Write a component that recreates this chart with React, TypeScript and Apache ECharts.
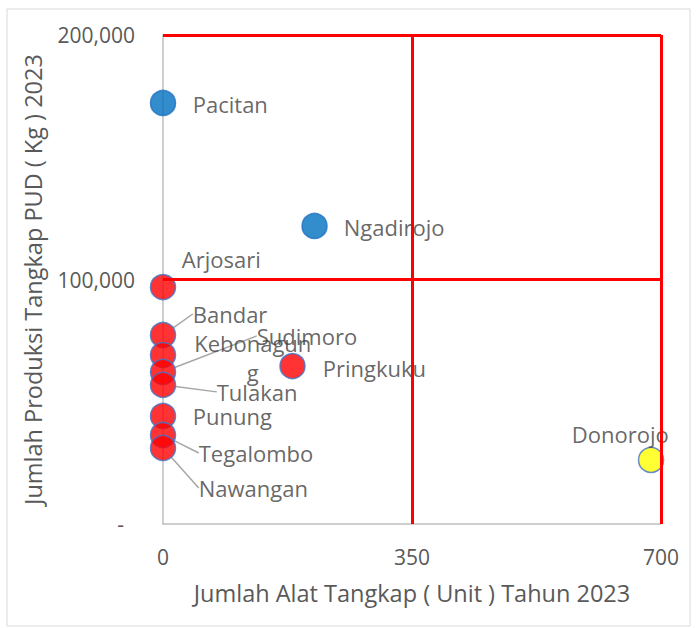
import React, { useEffect, useRef } from "react";
import * as echarts from "echarts";

// ---- data ----
const districts = [
  "Pacitan",
  "Ngadirojo",
  "Arjosari",
  "Bandar",
  "Kebonagun\ng",
  "Sudimoro",
  "Tulakan",
  "Pringkuku",
  "Punung",
  "Tegalombo",
  "Nawangan",
  "Donorojo",
];
const alatTangkap = [0, 213, 0, 0, 0, 0, 0, 182, 0, 0, 0, 686];
const produksi = [172200, 121900, 96900, 77300, 69100, 62200, 56900, 64600, 44200, 36400, 31100, 26200];
const kuadran = ["biru", "biru", "merah", "merah", "merah", "merah", "merah", "merah", "merah", "merah", "merah", "kuning"];
const xTicks = [0, 350, 700];
const yTicks = [0, 100000, 200000];
const batasX = [350, 700];
const batasY = [100000, 200000];

// ---- layout / style (not data) ----
const fillColors: Record<string, string> = { biru: "#0070C0", merah: "#FF0000", kuning: "#FFFF00" };
const labelShift: number[][] = [
  [11.5, 1],
  [11, 1],
  [0.5, -28],
  [11.5, -21],
  [71.5, 2],
  [75.5, -36],
  [35.5, 7],
  [12, 2],
  [11.5, 0],
  [17.5, 18],
  [17.5, 40],
  [-97.5, -26],
];
const leaderLine = [false, false, false, true, false, true, true, false, false, true, true, false];
const centeredLabel = [false, false, false, false, true, false, false, false, false, false, false, false];

const FONT = "'Open Sans', 'Noto Sans', sans-serif";

export default function App() {
  const ref = useRef<HTMLDivElement>(null);
  useEffect(() => {
    if (!ref.current) return;
    const chart = echarts.init(ref.current, undefined, { renderer: "svg" });
    const data = districts.map((name, i) => ({
      name,
      value: [alatTangkap[i], produksi[i]],
      itemStyle: {
        color: fillColors[kuadran[i]],
        borderColor: kuadran[i] === "biru" ? "#1F6FC0" : "#4472C4",
        borderWidth: 1.5,
      },
      label: centeredLabel[i] ? { align: "center", lineHeight: 29 } : {},
      labelLine: { show: leaderLine[i], lineStyle: { color: "#A6A6A6", width: 1.5 } },
    }));
    chart.setOption({
      animation: false,
      backgroundColor: "#FFFFFF",
      grid: { left: 163, right: 36, top: 35, bottom: 104, containLabel: false },
      graphic: [
        {
          type: "rect",
          shape: { x: 7, y: 9, width: 683, height: 617 },
          style: { fill: "none", stroke: "#D9D9D9", lineWidth: 1 },
          silent: true,
          z: -1,
        },
      ],
      xAxis: {
        type: "value",
        min: xTicks[0],
        max: xTicks[xTicks.length - 1],
        interval: xTicks[1] - xTicks[0],
        name: "Jumlah Alat Tangkap ( Unit ) Tahun 2023",
        nameLocation: "middle",
        nameGap: 57,
        nameTextStyle: { fontFamily: FONT, fontSize: 23.5, color: "#595959" },
        axisLine: { show: true, lineStyle: { color: "#BFBFBF", width: 1.5 } },
        axisTick: { show: false },
        splitLine: { show: false },
        axisLabel: { fontFamily: FONT, fontSize: 21, color: "#595959", margin: 22 },
      },
      yAxis: {
        type: "value",
        min: yTicks[0],
        max: yTicks[yTicks.length - 1],
        interval: yTicks[1] - yTicks[0],
        name: "Jumlah Produksi Tangkap PUD ( Kg ) 2023",
        nameLocation: "middle",
        nameGap: 118,
        nameTextStyle: { fontFamily: FONT, fontSize: 23.5, color: "#595959" },
        axisLine: { show: true, lineStyle: { color: "#BFBFBF", width: 1.5 } },
        axisTick: { show: false },
        splitLine: { show: false },
        axisLabel: {
          fontFamily: FONT,
          fontSize: 21,
          color: "#595959",
          margin: 28,
          formatter: (v: number) => (v === 0 ? "-  " : v.toLocaleString("en-US")),
        },
      },
      series: [
        {
          type: "scatter",
          clip: false,
          symbol: "circle",
          symbolSize: 25,
          data,
          label: {
            show: true,
            position: "right",
            distance: 5,
            formatter: "{b}",
            fontFamily: FONT,
            fontSize: 22,
            color: "#404040",
          },
          labelLayout: (p: any) => ({ dx: labelShift[p.dataIndex][0], dy: labelShift[p.dataIndex][1] }),
          emphasis: { disabled: true },
          markLine: {
            silent: true,
            symbol: "none",
            label: { show: false },
            lineStyle: { color: "#FF0000", width: 3, type: "solid" },
            emphasis: { disabled: true },
            data: [
              ...batasY.map((y) => ({ yAxis: y })),
              ...batasX.map((x) => ({ xAxis: x })),
            ],
          },
        },
      ],
    });
    return () => chart.dispose();
  }, []);
  return (
    <div
      ref={ref}
      style={{ position: "fixed", left: 0, top: 0, width: 697, height: 628, background: "#fff" }}
    />
  );
}
